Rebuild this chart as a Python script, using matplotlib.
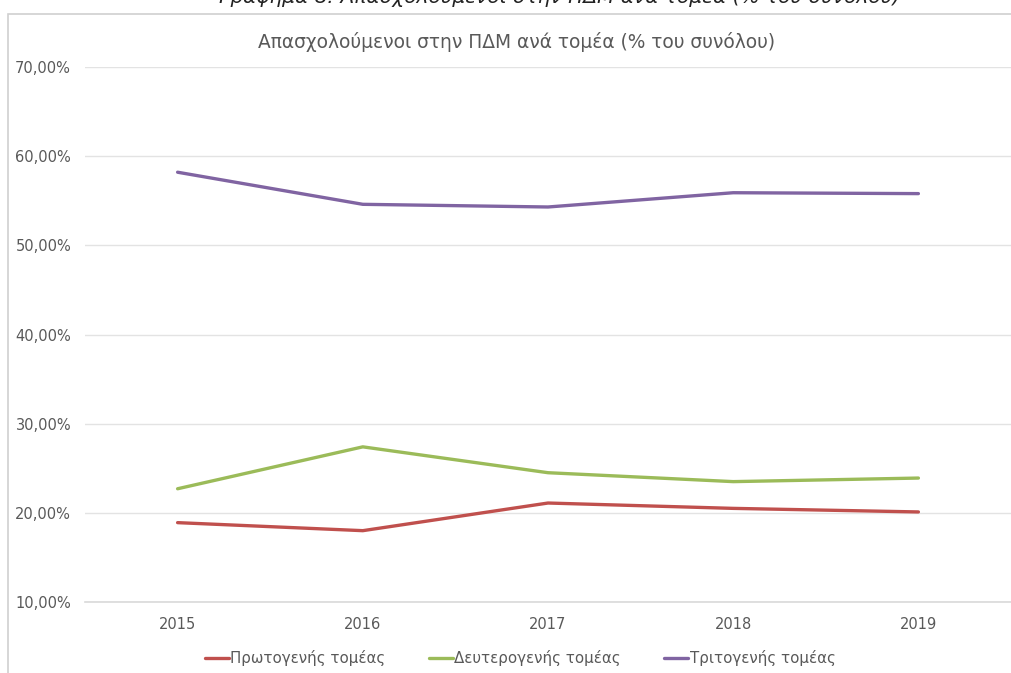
import matplotlib
matplotlib.use("Agg")
import matplotlib.pyplot as plt
from matplotlib.patches import Rectangle
from matplotlib.ticker import FuncFormatter

years = ["2015", "2016", "2017", "2018", "2019"]
primary = [18.9, 18.0, 21.1, 20.5, 20.1]
secondary = [22.7, 27.4, 24.5, 23.5, 23.9]
tertiary = [58.2, 54.6, 54.3, 55.9, 55.8]
series_names = ["Πρωτογενής τομέας", "Δευτερογενής τομέας", "Τριτογενής τομέας"]
colors = ["#C0504D", "#9BBB59", "#8064A2"]

plt.rcParams["font.family"] = ["DejaVu Sans"]
grey = "#595959"

fig = plt.figure(figsize=(10.11, 6.73), dpi=100)
W, H = 1011, 673

# outer chart frame (cut off right and bottom)
fig.patches.append(Rectangle((8 / W, -0.1), 1.2, 1 - 14 / H + 0.1,
                             transform=fig.transFigure, fill=False,
                             edgecolor="#d0d0d0", linewidth=1.2))

# caption above the chart, partly cut off like in the source
fig.text(560 / W, 1 - 3 / H, "Γράφημα 8: Απασχολούμενοι στην ΠΔΜ ανά τομέα (% του συνόλου)",
         ha="center", va="baseline", fontsize=14.5, style="italic", color="#222222")

# chart title
fig.text(517 / W, 1 - 42 / H, "Απασχολούμενοι στην ΠΔΜ ανά τομέα (% του συνόλου)",
         ha="center", va="center", fontsize=13.4, color=grey)

ax = fig.add_axes([85 / W, 1 - 602 / H, (1011 - 85) / W, (602 - 67) / H])
x = list(range(len(years)))
for vals, name, c in zip([primary, secondary, tertiary], series_names, colors):
    ax.plot(x, vals, color=c, linewidth=2.4, label=name, solid_capstyle="round")

ax.set_xlim(-0.5, len(years) - 0.5)
ax.set_ylim(10, 70)
ax.set_yticks(range(10, 71, 10))
ax.yaxis.set_major_formatter(FuncFormatter(lambda v, p: f"{v:.2f}%".replace(".", ",")))
ax.set_xticks(x)
ax.set_xticklabels(years)
ax.grid(axis="y", color="#e3e3e3", linewidth=1)
ax.set_axisbelow(True)
for s in ["top", "right", "left"]:
    ax.spines[s].set_visible(False)
ax.spines["bottom"].set_color("#d9d9d9")
ax.spines["bottom"].set_linewidth(1.2)
ax.tick_params(length=0, colors=grey, labelsize=10.5)
ax.tick_params(axis="y", pad=10)
ax.tick_params(axis="x", pad=11)

ax.legend(loc="center", bbox_to_anchor=(0.47, -0.105), ncol=3, frameon=False,
          fontsize=10.8, labelcolor=grey, handlelength=1.6, handletextpad=0.1,
          columnspacing=2.9)

fig.savefig("out.png", dpi=100)
